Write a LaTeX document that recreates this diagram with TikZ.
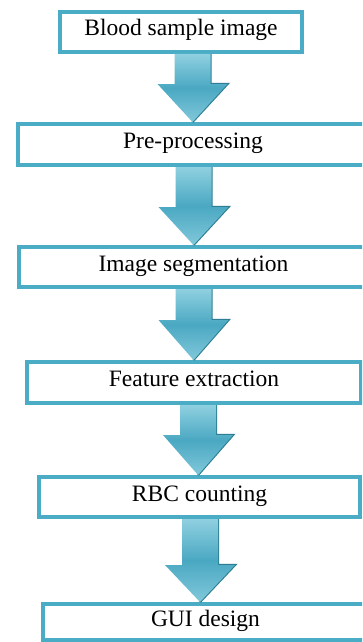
\documentclass[tikz,border=0pt]{standalone}
\usepackage{fontspec}
\setmainfont{Liberation Serif}
\usetikzlibrary{calc}
\definecolor{aqua}{HTML}{4BACC6}
\definecolor{aqualight}{HTML}{8FD0E0}
\definecolor{aquamid}{HTML}{4AA8C2}
\definecolor{aquadark}{HTML}{2E7E93}
\tikzset{
  box/.style={draw=aqua, line width=4pt, fill=white, inner sep=0pt,
    text height=15.5pt, text depth=7.5pt,
    font=\fontsize{23.5}{28}\selectfont},
  arrowbody/.style={top color=aqualight, bottom color=aqualight!80!aquamid, middle color=aquamid},
  arrowedge/.style={draw=aquadark, line width=2.2pt, line join=miter, xshift=1.1pt, yshift=-1.1pt}
}
\newcommand\flowarr[3]{%
  \draw[arrowedge] let \p1=(#1), \p2=(#2) in
    (\x1+18pt,\y1) -- (\x1+18pt,\y2+#3) -- (\x1+35pt,\y2+#3) -- (\x2,\y2);
  \path[arrowbody] let \p1=(#1), \p2=(#2) in
    (\x1-18pt,\y1) -- (\x1+18pt,\y1) -- (\x1+18pt,\y2+#3) -- (\x1+35pt,\y2+#3)
    -- (\x2,\y2) -- (\x1-35pt,\y2+#3) -- (\x1-18pt,\y2+#3) -- cycle;
}
\begin{document}
\begin{tikzpicture}[x=1pt,y=-1pt]
\useasboundingbox (0,0) rectangle (362,642);
\fill[white] (0,0) rectangle (362,642);
\clip (0,0) rectangle (362,642);
\node[box, minimum width=242pt, minimum height=40pt] (b1) at (181,32) {Blood sample image};
\node[box, minimum width=350pt, minimum height=41pt] (b2) at (193,144.5) {Pre-processing};
\node[box, minimum width=349pt, minimum height=40pt] (b3) at (193.5,267) {Image segmentation};
\node[box, minimum width=334pt, minimum height=41pt] (b4) at (194,382.5) {Feature extraction};
\node[box, minimum width=321pt, minimum height=40pt] (b5) at (199.5,497) {RBC counting};
\node[box, minimum width=325pt, minimum height=36pt] (b6) at (205.5,622) {GUI design};
\coordinate (a1) at (192.5,54);
\coordinate (a2) at (193.5,167);
\coordinate (a3) at (193.5,289);
\coordinate (a4) at (198,405);
\coordinate (a5) at (200,519);
\coordinate (t1) at (a1 |- b2.north);
\coordinate (t2) at (a2 |- b3.north);
\coordinate (t3) at (a3 |- b4.north);
\coordinate (t4) at (a4 |- b5.north);
\coordinate (t5) at (a5 |- b6.north);
\flowarr{a1}{t1}{38pt}
\flowarr{a2}{t2}{38pt}
\flowarr{a3}{t3}{40pt}
\flowarr{a4}{t4}{40pt}
\flowarr{a5}{t5}{37pt}
\end{tikzpicture}
\end{document}
